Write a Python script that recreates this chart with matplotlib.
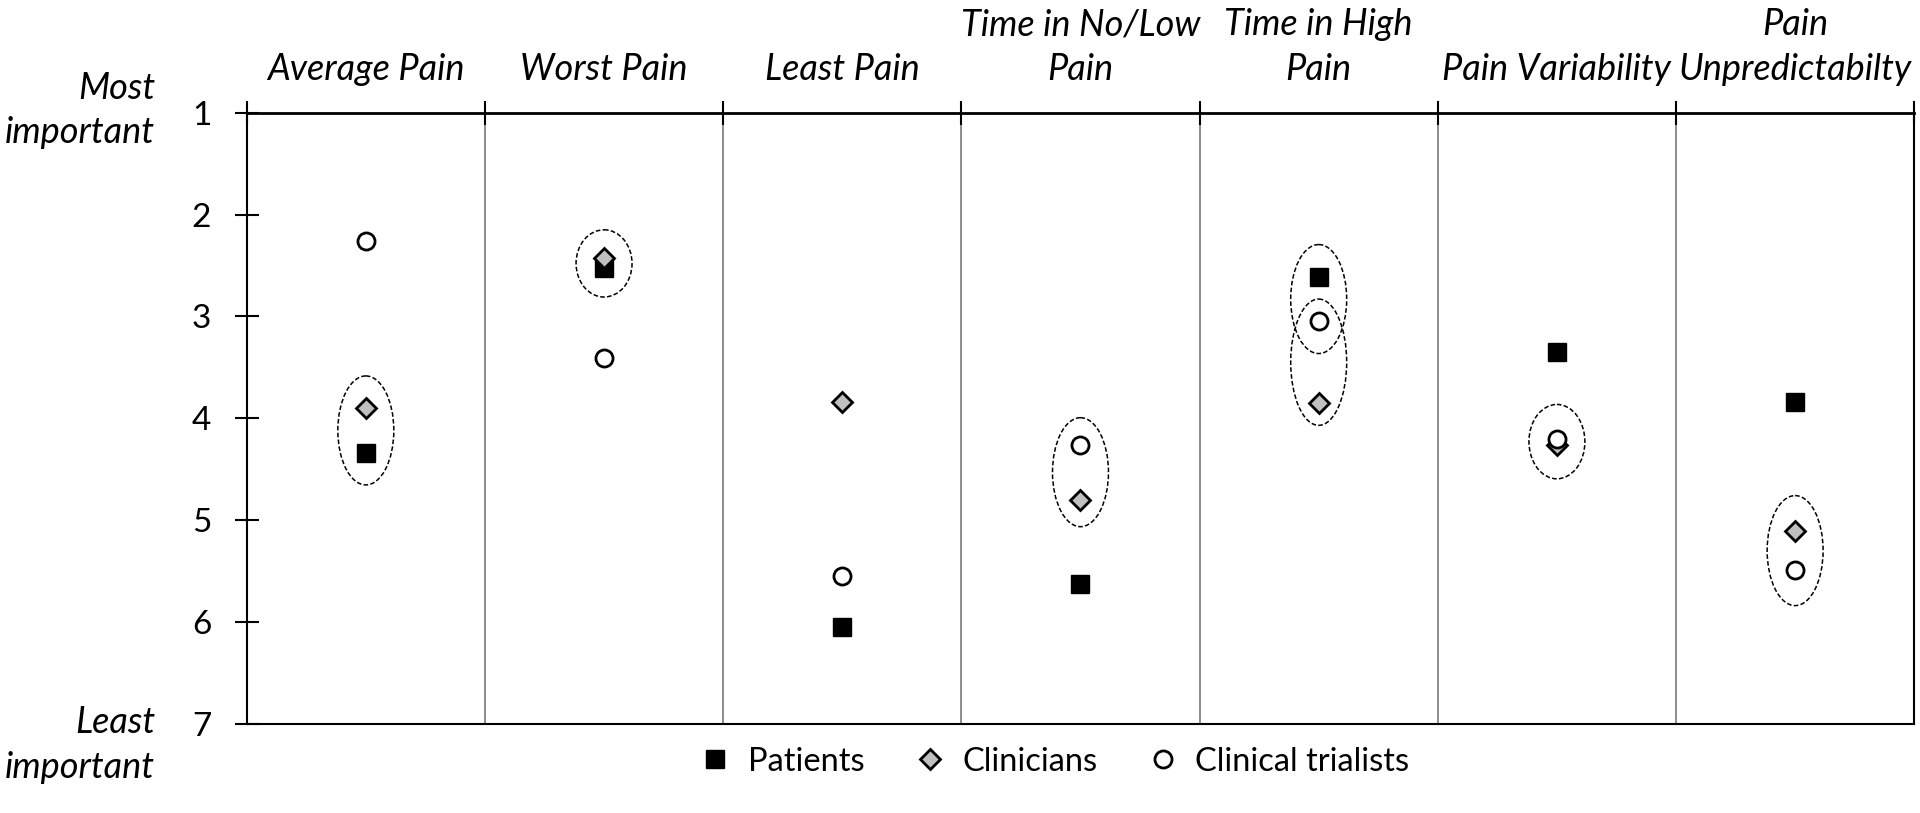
import matplotlib.pyplot as plt
from matplotlib.patches import Ellipse

categories = ['Average Pain', 'Worst Pain', 'Least Pain', 'Time in No/Low\nPain',
              'Time in High\nPain', 'Pain Variability', 'Pain\nUnpredictabilty']
patients = [4.34, 2.53, 6.05, 5.63, 2.61, 3.35, 3.84]
clinicians = [3.90, 2.43, 3.84, 4.80, 3.85, 4.26, 5.11]
trialists = [2.26, 3.41, 5.55, 4.26, 3.05, 4.20, 5.49]

# dashed rings around pairs: (column, first series, second series)
groups = [(0, 'clin', 'pat'), (1, 'clin', 'pat'), (3, 'trial', 'clin'),
          (4, 'pat', 'trial'), (4, 'trial', 'clin'), (5, 'trial', 'clin'),
          (6, 'clin', 'trial')]
ring_heights = [1.07, 0.66, 1.07, 1.07, 1.24, 0.73, 1.08]

plt.rcParams['font.family'] = ['Lato', 'DejaVu Sans']

fig = plt.figure(figsize=(19.2, 8.13), dpi=100)
ax = fig.add_axes([0.1285, 0.1098, 0.8685, 0.7516])

xs = [i + 0.5 for i in range(len(categories))]
ax.plot(xs, patients, ls='none', marker='s', ms=13.5, mfc='black', mec='black',
        mew=1, label='Patients', zorder=4)
ax.plot(xs, clinicians, ls='none', marker='D', ms=10.3, mfc='#c0c0c0', mec='black',
        mew=2, label='Clinicians', zorder=5)
ax.plot(xs, trialists, ls='none', marker='o', ms=12.3, mfc='white', mec='black',
        mew=2, label='Clinical trialists', zorder=6)

series = {'pat': patients, 'clin': clinicians, 'trial': trialists}
for (col, a, b), h in zip(groups, ring_heights):
    yc = (series[a][col] + series[b][col]) / 2
    ax.add_patch(Ellipse((col + 0.5, yc), 0.235, h, fill=False, ls=(0, (3, 1.5)),
                         lw=1.1, ec='black', zorder=3))

for i in range(1, len(categories)):
    ax.axvline(i, color='#8c8c8c', lw=1.4, zorder=1)

ax.set_xlim(0, len(categories))
ax.set_ylim(7, 1)

ax.xaxis.tick_top()
ax.set_xticks(range(len(categories) + 1))
ax.set_xticklabels([])
ax.set_xticks(xs, minor=True)
ax.set_xticklabels(categories, minor=True, fontsize=26, style='italic', linespacing=1.45)
ax.tick_params(axis='x', which='major', direction='inout', length=17, width=1.5, top=True, bottom=False)
ax.tick_params(axis='x', which='minor', length=0, pad=19, top=True, bottom=False)

ax.set_yticks(range(1, 8))
ax.tick_params(axis='y', direction='inout', length=17, width=1.5, labelsize=24, pad=17)

for s in ax.spines.values():
    s.set_color('black')
    s.set_linewidth(1.5)
ax.spines['top'].set_linewidth(2)

# baseline of the last line sets the position
ax.text(-0.055, 1.30, 'Most\nimportant', transform=ax.get_yaxis_transform(), ha='right',
        va='baseline', fontsize=26, style='italic', linespacing=1.42)
ax.text(-0.055, 7.53, 'Least\nimportant', transform=ax.get_yaxis_transform(), ha='right',
        va='baseline', fontsize=26, style='italic', linespacing=1.42)

fig.legend(loc='center', bbox_to_anchor=(0.549, 0.063), ncol=3, frameon=False,
           fontsize=23.5, handlelength=1, handletextpad=0.5, columnspacing=1.5, numpoints=1)

fig.savefig('out.png', dpi=100)
